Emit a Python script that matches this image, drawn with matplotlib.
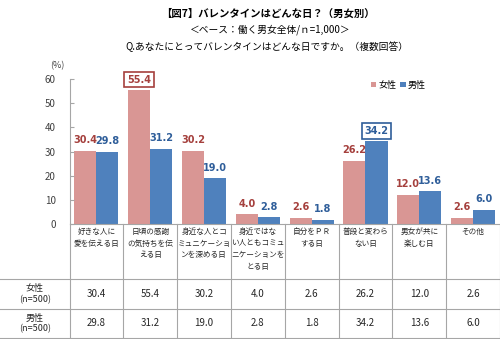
import matplotlib
matplotlib.use('Agg')
import matplotlib.pyplot as plt
from matplotlib.lines import Line2D
import numpy as np

plt.rcParams['font.family'] = ['Noto Sans CJK JP', 'DejaVu Sans']

categories = ['好きな人に\n愛を伝える日', '日頃の感謝\nの気持ちを伝\nえる日', '身近な人とコ\nミュニケーショ\nンを深める日',
              '身近ではな\nい人ともコミュ\nニケーションを\nとる日', '自分をＰＲ\nする日', '普段と変わら\nない日',
              '男女が共に\n楽しむ日', 'その他']
female = [30.4, 55.4, 30.2, 4.0, 2.6, 26.2, 12.0, 2.6]
male = [29.8, 31.2, 19.0, 2.8, 1.8, 34.2, 13.6, 6.0]
row_labels = ['女性\n(n=500)', '男性\n(n=500)']
yticks = [0, 10, 20, 30, 40, 50, 60]

c_f = '#D99694'
c_m = '#4F81BD'
t_f = '#A5403D'
t_m = '#2F5E9A'
grid_c = '#A6A6A6'

W, H = 500, 339
fig = plt.figure(figsize=(W/100, H/100), dpi=100)

x0, x1 = 69.5, 500
y0, y1 = 224, 79
ax = fig.add_axes([x0/W, 1-y0/H, (x1-x0)/W, (y0-y1)/H])
n = len(categories)
ax.set_xlim(0, n)
ax.set_ylim(0, 60)

bw = 0.41
xs = np.arange(n) + 0.5
ax.bar(xs - bw/2, female, bw, color=c_f, label='女性')
ax.bar(xs + bw/2, male, bw, color=c_m, label='男性')

imax_f = int(np.argmax(female))
imax_m = int(np.argmax(male))
for i in range(n):
    for v, dx, col, hi in [(female[i], -bw/2, t_f, i == imax_f), (male[i], bw/2, t_m, i == imax_m)]:
        kw = {}
        if hi:
            kw['bbox'] = dict(boxstyle='square,pad=0.3', fc='white', ec=col, lw=1.2)
        ax.annotate(f'{v:.1f}', (xs[i] + dx, v), xytext=(0, 4), textcoords='offset points',
                    ha='center', va='bottom', fontsize=7, fontweight='bold', color=col,
                    family='DejaVu Sans', clip_on=False, **kw)

for s in ['top', 'right']:
    ax.spines[s].set_visible(False)
ax.spines['left'].set_color(grid_c)
ax.spines['bottom'].set_color(grid_c)
ax.set_yticks(yticks)
ax.tick_params(axis='y', direction='in', length=3, color=grid_c, labelsize=7, labelcolor='#404040', pad=10)
ax.set_xticks([])
ax.text(-0.22, 65.5, '(%)', fontsize=6.5, color='#404040', ha='center', va='center')

ax.legend(loc='upper left', bbox_to_anchor=(0.69, 1.02), ncol=2, frameon=False, fontsize=6.5,
          handlelength=0.6, handleheight=0.6, handletextpad=0.25, columnspacing=0.4, borderpad=0)

# table
cw = (x1 - x0) / n
def fl(xa, ya, xb, yb):
    fig.add_artist(Line2D([xa/W, xb/W], [1-ya/H, 1-yb/H], color=grid_c, lw=0.8))

rows_y = [279, 309, 338]
for y in rows_y:
    fl(0, y, W, y)
for k in range(n + 1):
    fl(x0 + k*cw, y0, x0 + k*cw, 338)

for i, c in enumerate(categories):
    fig.text((x0 + (i+0.5)*cw)/W, 1-228/H, c, ha='center', va='top', fontsize=5.5, linespacing=1.6, color='#262626')

for r, (lab, vals) in enumerate(zip(row_labels, [female, male])):
    yc = (rows_y[r] + rows_y[r+1]) / 2
    fig.text(35/W, 1-yc/H, lab, ha='center', va='center', fontsize=6.5, linespacing=1.2, color='#262626')
    for i, v in enumerate(vals):
        fig.text((x0 + (i+0.5)*cw)/W, 1-yc/H, f'{v:.1f}', ha='center', va='center', fontsize=7, color='#262626')

# titles
fig.text(268/W, 1-14/H, '【図7】バレンタインはどんな日？（男女別）', ha='center', va='center', fontsize=7.5, fontweight='bold')
fig.text(270/W, 1-30/H, '＜ベース：働く男女全体/ｎ=1,000＞', ha='center', va='center', fontsize=7)
fig.text(267/W, 1-47/H, 'Q.あなたにとってバレンタインはどんな日ですか。（複数回答）', ha='center', va='center', fontsize=7)

fig.savefig('out.png', dpi=100)
